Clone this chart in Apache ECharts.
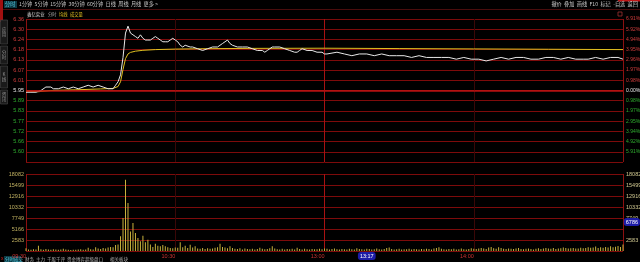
<!DOCTYPE html>
<html><head><meta charset="utf-8">
<script src="https://cdn.jsdelivr.net/npm/echarts@6/dist/echarts.min.js"></script>
<style>html,body{margin:0;padding:0;background:#000;overflow:hidden}#c{width:640px;height:262px}</style>
</head><body><div id="c"></div>
<script>
// ---------- data ----------
const stockName = '鑫亿实业';
const basePrice = 5.95;          // previous close
const priceStep = 0.0587;        // price per grid row
const leftPriceLabels = ['6.36','6.30','6.24','6.18','6.13','6.07','6.01','5.95','5.89','5.83','5.77','5.72','5.66','5.60'];
const pctLabels = ['6.91%','5.92%','4.94%','3.95%','2.96%','1.97%','0.98%','0.00%','0.98%','1.97%','2.95%','3.94%','4.92%','5.91%'];
const volMax = 18082;
const volLabels = ['18082','15499','12916','10332','7749','5166','2583'];
const rightVolLabels = ['18082','15499','12916','10332','7749','','2583'];
const timeLabels = ['09:30','10:30','13:00','14:00',''];
const cursorMinute = 137, cursorTime = '13:17', cursorVol = 6786;

const priceMinutes = [0,2,4,6,8,10,11,13,15,17,19,21,23,25,27,29,31,33,35,36,37,38,39,40,41,42,43,44,45,46,47,48,49,50,51,52,53,54,55,56,57,58,59,60,61,62,63,64,66,67,69,71,73,75,77,78,79,80,81,82,83,85,87,89,91,93,95,96,97,98,99,100,102,104,106,108,109,110,111,113,115,117,119,120,
  121,125,128,131,134,137,140,143,146,149,152,155,158,161,164,167,170,173,176,179,182,185,188,191,194,197,200,203,206,209,212,215,218,221,224,226,229,232,235,238,240];
const prices = [5.94,5.94,5.94,5.95,5.97,5.97,5.96,5.96,5.97,5.96,5.97,5.96,5.97,5.98,5.97,5.98,5.97,5.96,5.96,5.98,6.00,6.04,6.14,6.28,6.32,6.28,6.27,6.26,6.25,6.27,6.25,6.24,6.24,6.24,6.25,6.26,6.25,6.24,6.23,6.23,6.23,6.24,6.25,6.24,6.23,6.21,6.20,6.21,6.20,6.20,6.19,6.18,6.19,6.20,6.20,6.21,6.22,6.23,6.24,6.22,6.21,6.20,6.20,6.20,6.19,6.18,6.18,6.17,6.18,6.19,6.20,6.20,6.20,6.19,6.18,6.17,6.17,6.18,6.19,6.18,6.18,6.17,6.17,6.16,
  6.16,6.17,6.16,6.15,6.16,6.16,6.15,6.16,6.15,6.15,6.15,6.14,6.15,6.14,6.14,6.14,6.14,6.13,6.14,6.13,6.13,6.12,6.13,6.14,6.13,6.14,6.14,6.13,6.13,6.14,6.14,6.13,6.14,6.13,6.13,6.13,6.14,6.13,6.14,6.14,6.13];

const avgMinutes = [0,5,10,20,30,35,37,38,39,40,41,42,44,47,52,60,70,90,120,150,180,210,240];
const avgPrices = [5.946,5.943,5.950,5.954,5.959,5.962,5.973,6.000,6.071,6.133,6.160,6.169,6.176,6.181,6.185,6.188,6.190,6.192,6.193,6.191,6.189,6.187,6.185];

const volumes = [
 620,380,300,420,350,1250,400,310,450,380,
 300,420,350,290,380,520,330,300,260,310,
 280,350,400,290,330,760,420,380,900,600,
 450,700,560,820,950,900,1400,1500,3440,7750,
 16760,11270,4600,6570,4230,3050,2270,3600,2030,2660,
 1500,940,1720,1250,1100,1410,1100,900,700,650,
 820,760,2030,900,1250,700,1480,850,1100,600,
 550,700,480,650,520,600,750,900,1720,950,
 800,620,1100,700,500,450,620,380,560,480,
 420,500,380,450,780,520,400,480,620,1100,
 560,420,380,500,350,460,400,520,380,780,
 450,380,520,400,360,480,420,390,500,440,
 600,520,380,450,560,400,330,480,420,360,
 500,420,380,620,450,400,350,520,460,380,
 420,560,400,380,480,700,820,450,380,420,
 500,360,440,400,520,380,460,420,350,480,
 400,520,450,380,600,720,880,500,420,380,
 460,400,520,380,440,560,420,380,480,620,
 520,450,600,700,560,480,820,950,620,520,
 880,700,540,480,600,520,450,560,700,480,
 420,520,600,450,380,520,640,480,560,720,
 600,520,700,480,560,620,820,700,560,640,
 720,600,560,780,640,700,900,760,820,1050,
 700,880,760,960,820,1100,900,1000,1200,950,
 1500];

const toolbarLeft = '1分钟  5分钟  15分钟  30分钟  60分钟  日线  周线  月线  更多 >';
const toolbarRight = '撤价  叠加  画线  F10  标记  -自选  返回';
const headerTabs = ['分时', '均线', '成交量'];
const bottomTabs = ['分时成交','财务','主力','千股千评','资金博弈','超级盘口','相关板块'];
const sideTabs = ['应用','分时','K线','资讯'];

// ---------- chart ----------
const FONT = 'Liberation Sans, Arial, sans-serif';
const CJK = '"Noto Sans CJK SC", sans-serif';
const gridRed = '#7d0b0b';
const toUnits = p => (p - basePrice) / priceStep;
const volStep = volMax / 7;

const hColors = []; for (let i = 0; i <= 14; i++) hColors.push(i === 7 ? '#b41212' : gridRed);
const vColors = ['#8c1010', '#3a0707', '#a81212', '#3a0707', '#8c1010'];

const graphic = [];
graphic.push({type:'line', shape:{x1:0,y1:9.5,x2:640,y2:9.5}, style:{stroke:'#4a0d0d', lineWidth:1}, silent:true});
graphic.push({type:'rect', shape:{x:0,y:0,width:3,height:22}, style:{fill:'#a01010'}, silent:true});
graphic.push({type:'rect', shape:{x:618,y:0,width:22,height:1.5}, style:{fill:'#c01818'}, silent:true});
graphic.push({type:'rect', shape:{x:4,y:1,width:13,height:7}, style:{fill:'#0d3a44'}, silent:true});
graphic.push({type:'text', x:5, y:4.5, style:{text:'分时', fill:'#58d0e8', font:'5.2px ' + CJK, verticalAlign:'middle'}, silent:true});
graphic.push({type:'text', x:19, y:4.5, style:{text:toolbarLeft, fill:'#c8c8c8', font:'5.2px ' + CJK, verticalAlign:'middle'}, silent:true});
graphic.push({type:'text', x:638, y:4.5, style:{text:toolbarRight, fill:'#c8c8c8', font:'5.2px ' + CJK, align:'right', verticalAlign:'middle'}, silent:true});
graphic.push({type:'text', x:27, y:14, style:{text:stockName, fill:'#d8d8d8', font:'4.4px ' + CJK, verticalAlign:'middle'}, silent:true});
const headerX = [48, 59, 70];
const headerColors = ['#a8a8a8', '#e0c020', '#e0c020'];
headerTabs.forEach((t, i) => {
  graphic.push({type:'text', x:headerX[i], y:14, style:{text:t, fill:headerColors[i], font:'4.3px ' + CJK, verticalAlign:'middle'}, silent:true});
});
graphic.push({type:'rect', shape:{x:618,y:12,width:4,height:4}, style:{fill:'none', stroke:'#a03030', lineWidth:0.8}, silent:true});
// side tabs
const sideY = [[20,44],[46,64],[66,88],[90,104]];
sideTabs.forEach((t, i) => {
  graphic.push({type:'rect', shape:{x:0.5,y:sideY[i][0],width:7,height:sideY[i][1]-sideY[i][0]}, style:{fill:'#1a1a1a', stroke:'#4a4a4a', lineWidth:0.6}, silent:true});
  graphic.push({type:'text', x:4, y:(sideY[i][0]+sideY[i][1])/2, style:{text:t.split('').join('\n'), fill:'#909090', font:'4.5px ' + CJK, align:'center', verticalAlign:'middle', lineHeight:5.5}, silent:true});
});
// bottom tabs
const tabX = [5,25,36,47,67,85,110];
graphic.push({type:'rect', shape:{x:4,y:256,width:17,height:6}, style:{fill:'#0d3a44'}, silent:true});
graphic.push({type:'text', x:1, y:259, style:{text:'x', fill:'#d02020', font:'5px ' + FONT, verticalAlign:'middle'}, silent:true});
bottomTabs.forEach((t, i) => {
  graphic.push({type:'text', x:tabX[i], y:259, style:{text:t, fill:i === 0 ? '#58d0e8' : '#b0b0b0', font:'4.5px ' + CJK, verticalAlign:'middle'}, silent:true});
});

const option = {
  animation: false,
  backgroundColor: '#000',
  graphic: graphic,
  grid: [
    {left:26, right:17, top:19, height:143, outerBoundsMode:'none', containLabel:false},
    {left:26, right:17, top:174, height:77, outerBoundsMode:'none', containLabel:false}
  ],
  xAxis: [
    {type:'value', gridIndex:0, min:0, max:240, interval:60,
     axisLine:{show:false}, axisTick:{show:false}, axisLabel:{show:false},
     splitLine:{show:true, lineStyle:{color:vColors, width:1}}},
    {type:'value', gridIndex:1, min:0, max:240, interval:60,
     axisLine:{show:false}, axisTick:{show:false},
     axisLabel:{show:true, fontSize:5.5, fontFamily:FONT, color:'#c83232', margin:2, align:'right',
       formatter: v => timeLabels[Math.round(v / 60)] || ''},
     splitLine:{show:true, lineStyle:{color:vColors, width:1}},
     axisPointer:{show:true, type:'line', value:cursorMinute, status:'show', snap:false, triggerTooltip:false, triggerOn:'none',
       lineStyle:{opacity:0},
       label:{show:true, formatter: () => cursorTime, backgroundColor:'#1c1ca8', color:'#fff', fontSize:5.5, fontFamily:FONT, padding:[1,2,1,2], margin:1}}}
  ],
  yAxis: [
    {type:'value', gridIndex:0, position:'left', min:-7, max:7, interval:1,
     axisLine:{show:false}, axisTick:{show:false},
     axisLabel:{fontSize:5.5, fontFamily:FONT, margin:2,
       formatter: v => leftPriceLabels[7 - Math.round(v)] || '',
       color: v => { const n = Math.round(Number(v)); return n > 0 ? '#d23c3c' : n < 0 ? '#2fae2f' : '#e6e6e6'; }},
     splitLine:{show:true, lineStyle:{color:hColors, width:1}}},
    {type:'value', gridIndex:0, position:'right', min:-7, max:7, interval:1,
     axisLine:{show:false}, axisTick:{show:false}, splitLine:{show:false},
     axisLabel:{fontSize:5, fontFamily:FONT, margin:3,
       formatter: v => pctLabels[7 - Math.round(v)] || '',
       color: v => { const n = Math.round(Number(v)); return n > 0 ? '#d23c3c' : n < 0 ? '#2fae2f' : '#e6e6e6'; }}},
    {type:'value', gridIndex:1, position:'left', min:0, max:volMax, interval:volStep,
     axisLine:{show:false}, axisTick:{show:false},
     axisLabel:{fontSize:5.5, fontFamily:FONT, margin:2, color:'#c0b060',
       formatter: v => { const k = Math.round(v / volStep); return k > 0 ? volLabels[7 - k] : ''; }},
     splitLine:{show:true, lineStyle:{color:gridRed, width:1}}},
    {type:'value', gridIndex:1, position:'right', min:0, max:volMax, interval:volStep,
     axisLine:{show:false}, axisTick:{show:false}, splitLine:{show:false},
     axisLabel:{fontSize:5.5, fontFamily:FONT, margin:3, color:'#d0c890',
       formatter: v => { const k = Math.round(v / volStep); return k > 0 ? rightVolLabels[7 - k] : ''; }},
     axisPointer:{show:true, type:'line', value:cursorVol, status:'show', snap:false, triggerTooltip:false, triggerOn:'none',
       lineStyle:{opacity:0},
       label:{show:true, formatter: () => String(cursorVol), backgroundColor:'#1c1ca8', color:'#fff', fontSize:5.5, fontFamily:FONT, padding:[1,2,1,2], margin:1}}}
  ],
  series: [
    {type:'line', name:'均线', xAxisIndex:0, yAxisIndex:0, symbol:'none', silent:true,
     lineStyle:{color:'#e0c020', width:1}, z:3,
     data: avgMinutes.map((m, i) => [m, toUnits(avgPrices[i])])},
    {type:'line', name:'分时', xAxisIndex:0, yAxisIndex:0, symbol:'none', silent:true,
     lineStyle:{color:'#e8e8e8', width:1}, z:4,
     data: priceMinutes.map((m, i) => [m, toUnits(prices[i])]),
     markLine:{silent:true, symbol:'none', label:{show:false}, lineStyle:{color:'#b41212', width:1.6, type:'solid'}, data:[{yAxis:0}]}},
    {type:'bar', name:'成交量', xAxisIndex:1, yAxisIndex:2, barWidth:1, silent:true,
     itemStyle:{color:'#c8b23c'},
     data: volumes.map((v, i) => [i, v])}
  ]
};
const chart = echarts.init(document.getElementById('c'));
chart.setOption(option);
</script>
</body></html>
